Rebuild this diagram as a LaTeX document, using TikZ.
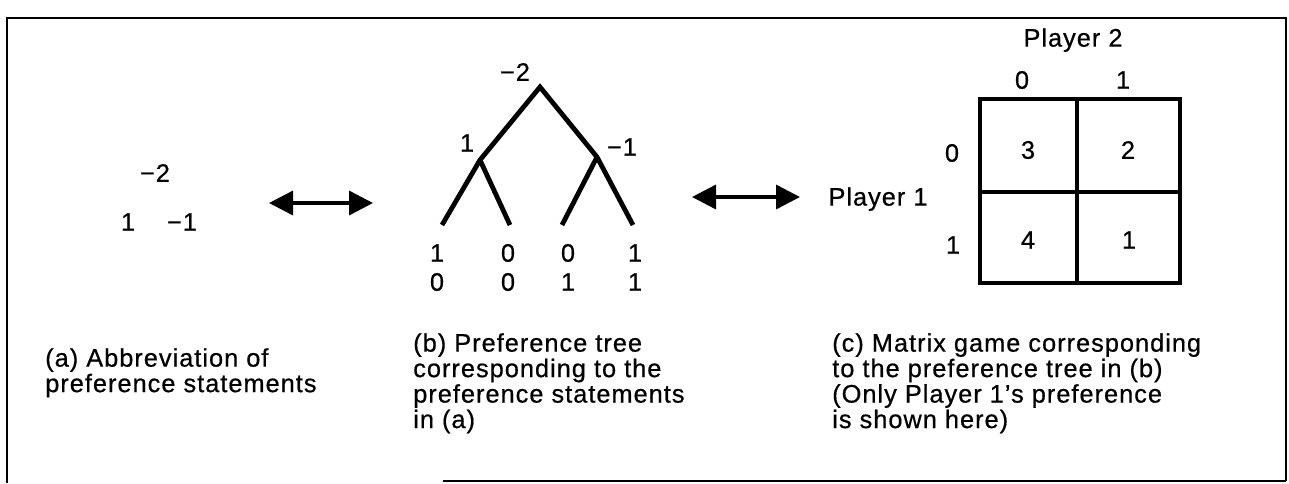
\documentclass[tikz,border=0pt]{standalone}
\usepackage{fontspec}
\setmainfont{Liberation Sans}[LetterSpace=4,FakeBold=0.6]
\usetikzlibrary{arrows.meta}
\begin{document}
\begin{tikzpicture}[x=0.75pt,y=-0.75pt,
  lbl/.style={font=\fontsize{19}{19.1}\selectfont, inner sep=0pt},
  captxt/.style={lbl, align=left, anchor=north west},
  frameline/.style={line width=1pt},
  treeline/.style={line width=3.6pt, line cap=butt, line join=miter},
  dblarrow/.style={line width=2.6pt, {Triangle[length=18pt,width=18pt]}-{Triangle[length=18pt,width=18pt]}},
  gridline/.style={line width=2.3pt}]
\useasboundingbox (0,0) rectangle (1289,483);
% frame
\coordinate (f1) at (7,483);
\coordinate (f2) at (7,18);
\coordinate (f3) at (1286,18);
\coordinate (f4) at (1286,481);
\coordinate (f5) at (443,481);
\draw[frameline] (f1) -- (f2) -- (f3) -- (f4);
\draw[frameline] (f5) -- (f4);
% (a) abbreviation
\node[lbl] (am2) at (155,173) {−2};
\node[lbl] (a1) at (128,222) {1};
\node[lbl] (am1) at (182,222) {−1};
% arrow 1
\coordinate (a1l) at (269,203);
\coordinate (a1r) at (373,203);
\draw[dblarrow] (a1l) -- (a1r);
% tree
\coordinate (r) at (540,87);
\coordinate (lc) at (480,160);
\coordinate (rc) at (597,157);
\coordinate (l1) at (442,225);
\coordinate (l2) at (510,225);
\coordinate (l3) at (562,225);
\coordinate (l4) at (633,225);
\draw[treeline] (l1) -- (lc) -- (r) -- (rc) -- (l4);
\draw[treeline] (lc) -- (l2);
\draw[treeline] (rc) -- (l3);
\node[lbl] (tr) at (515,72) {−2};
\node[lbl] (tl) at (467,143) {1};
\node[lbl] (trr) at (622,147) {−1};
\node[lbl] (x1a) at (437,253) {1};
\node[lbl] (x2a) at (508,253) {0};
\node[lbl] (x3a) at (568,253) {0};
\node[lbl] (x4a) at (635,253) {1};
\node[lbl] (x1b) at (437,282) {0};
\node[lbl] (x2b) at (508,282) {0};
\node[lbl] (x3b) at (568,282) {1};
\node[lbl] (x4b) at (635,282) {1};
% arrow 2
\coordinate (a2l) at (692,197);
\coordinate (a2r) at (800,197);
\draw[dblarrow] (a2l) -- (a2r);
% matrix
\node[lbl, anchor=base] (p1) at (878,205.6) {Player 1};
\node[lbl, anchor=base] (p2) at (1073,46.6) {Player 2};
\coordinate (m1) at (980,99);
\coordinate (m2) at (1180,283);
\coordinate (mvt) at (1077,99);
\coordinate (mvb) at (1077,283);
\coordinate (mhl) at (980,192);
\coordinate (mhr) at (1180,192);
\draw[gridline] (m1) rectangle (m2);
\draw[gridline] (mvt) -- (mvb);
\draw[gridline] (mhl) -- (mhr);
\node[lbl] (c0) at (1022,80) {0};
\node[lbl] (c1) at (1123,80) {1};
\node[lbl] (r0) at (952,153) {0};
\node[lbl] (r1) at (953,245) {1};
\node[lbl] (v11) at (1028,150) {3};
\node[lbl] (v12) at (1128,150) {2};
\node[lbl] (v21) at (1028,240) {4};
\node[lbl] (v22) at (1129,240) {1};
% captions
\node[captxt] (capa) at (45,348) {(a) Abbreviation of\\preference statements};
\node[captxt] (capb) at (413,333) {(b) Preference tree\\corresponding to the\\preference statements\\in (a)};
\node[captxt] (capc) at (832,333) {(c) Matrix game corresponding\\to the preference tree in (b)\\(Only Player 1's preference\\is shown here)};
\end{tikzpicture}
\end{document}
